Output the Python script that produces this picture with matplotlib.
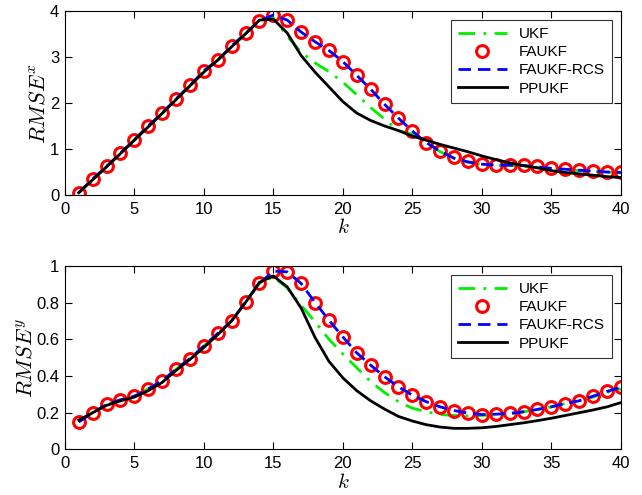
#!/usr/bin/env python3
"""RMSE of the x and y estimates over time for four UKF variants."""

import matplotlib
matplotlib.use("Agg")
import matplotlib.pyplot as plt
import numpy as np

plt.rcParams["font.family"] = ["Liberation Sans", "DejaVu Sans"]
plt.rcParams["mathtext.fontset"] = "cm"

K = np.arange(1, 41)

# RMSE in x
RISE_X = [0.05, 0.35, 0.62, 0.91, 1.20, 1.50, 1.78, 2.09, 2.38, 2.70,
          2.93, 3.24, 3.51, 3.79]
FAUKF_X = RISE_X + [3.91, 3.80, 3.54, 3.33, 3.14, 2.90, 2.60, 2.30, 1.97, 1.67,
                    1.39, 1.14, 0.96, 0.83, 0.73, 0.67, 0.65, 0.66, 0.66, 0.62,
                    0.58, 0.56, 0.54, 0.52, 0.51, 0.49]
RCS_X = RISE_X + [3.91, 3.80, 3.54, 3.33, 3.14, 2.90, 2.60, 2.30, 1.97, 1.67,
                  1.39, 1.14, 0.95, 0.80, 0.72, 0.67, 0.65, 0.65, 0.64, 0.61,
                  0.58, 0.56, 0.54, 0.52, 0.50, 0.49]
UKF_X = RISE_X + [3.85, 3.45, 3.10, 2.87, 2.68, 2.45, 2.18, 1.90, 1.65, 1.40,
                  1.32, 1.14, 0.94, 0.80, 0.71, 0.66, 0.64, 0.64, 0.63, 0.60,
                  0.57, 0.55, 0.53, 0.51, 0.50, 0.48]
PPUKF_X = [0.05, 0.33, 0.61, 0.90, 1.19, 1.48, 1.77, 2.07, 2.37, 2.67,
           2.93, 3.22, 3.50, 3.80, 3.82, 3.52, 3.03, 2.67, 2.35, 2.03,
           1.78, 1.62, 1.50, 1.40, 1.28, 1.19, 1.10, 1.02, 0.94, 0.85,
           0.77, 0.70, 0.64, 0.59, 0.53, 0.49, 0.46, 0.43, 0.40, 0.38]

# RMSE in y
RISE_Y = [0.15, 0.20, 0.245, 0.27, 0.29, 0.33, 0.374, 0.437, 0.495, 0.563,
          0.632, 0.70, 0.804, 0.904]
FAUKF_Y = RISE_Y + [0.971, 0.967, 0.904, 0.80, 0.704, 0.613, 0.526, 0.459, 0.396,
                    0.341, 0.296, 0.26, 0.232, 0.212, 0.198, 0.19, 0.192, 0.196,
                    0.205, 0.218, 0.232, 0.25, 0.265, 0.29, 0.316, 0.338]
RCS_Y = RISE_Y + [0.971, 0.967, 0.904, 0.80, 0.704, 0.613, 0.526, 0.459, 0.396,
                  0.341, 0.296, 0.26, 0.232, 0.212, 0.198, 0.19, 0.192, 0.196,
                  0.205, 0.218, 0.232, 0.25, 0.265, 0.29, 0.316, 0.338]
UKF_Y = RISE_Y + [0.94, 0.88, 0.785, 0.695, 0.60, 0.52, 0.445, 0.37, 0.31,
                  0.26, 0.225, 0.205, 0.19, 0.185, 0.183, 0.185, 0.19, 0.195,
                  0.205, 0.218, 0.232, 0.25, 0.265, 0.285, 0.31, 0.33]
PPUKF_Y = [0.16, 0.20, 0.24, 0.265, 0.285, 0.32, 0.365, 0.43, 0.49, 0.555,
           0.625, 0.70, 0.80, 0.91, 0.945, 0.885, 0.77, 0.61, 0.48, 0.39,
           0.32, 0.265, 0.22, 0.18, 0.155, 0.135, 0.122, 0.115, 0.115, 0.118,
           0.125, 0.135, 0.145, 0.157, 0.17, 0.185, 0.20, 0.215, 0.232, 0.255]

LABELS = ["UKF", "FAUKF", "FAUKF-RCS", "PPUKF"]


def draw_panel(ax, ukf, faukf, rcs, ppukf, ylabel, ylim, yticks):
    ax.plot(K, ukf, color="#00ee00", linestyle=(0, (6, 3, 1, 3)), linewidth=2,
            label=LABELS[0])
    ax.plot(K, faukf, "o", color="red", markerfacecolor="none", markersize=8.5,
            markeredgewidth=2.2, label=LABELS[1])
    ax.plot(K, rcs, color="blue", linestyle=(0, (4.5, 2.5)), linewidth=2,
            label=LABELS[2])
    ax.plot(K, ppukf, color="black", linewidth=2, label=LABELS[3])
    ax.set_xlim(0, 40)
    ax.set_ylim(*ylim)
    ax.set_xticks(range(0, 41, 5))
    ax.set_yticks(yticks)
    ax.set_yticklabels([f"{t:g}" for t in yticks])
    ax.tick_params(direction="in", top=True, right=True, length=5,
                   labelsize=12, width=0.8)
    ax.tick_params(axis="x", pad=5)
    ax.tick_params(axis="y", pad=4)
    ax.set_xlabel("$k$", fontsize=15, labelpad=1)
    ax.set_ylabel(ylabel, fontsize=16, labelpad=0)
    leg = ax.legend(loc="upper right", fontsize=11, frameon=True, fancybox=False,
                    edgecolor="black", borderpad=0.45, labelspacing=0.28,
                    handlelength=3.2, borderaxespad=0.6)
    leg.get_frame().set_linewidth(0.8)


fig = plt.figure(figsize=(6.42, 4.95), dpi=100)
ax_top = fig.add_axes([0.101, 0.606, 0.866, 0.372])
ax_bot = fig.add_axes([0.101, 0.092, 0.866, 0.371])

draw_panel(ax_top, UKF_X, FAUKF_X, RCS_X, PPUKF_X, "$RMSE^x$", (0, 4),
           [0, 1, 2, 3, 4])
draw_panel(ax_bot, UKF_Y, FAUKF_Y, RCS_Y, PPUKF_Y, "$RMSE^y$", (0, 1),
           [0, 0.2, 0.4, 0.6, 0.8, 1])

fig.savefig("out.png", dpi=100)
